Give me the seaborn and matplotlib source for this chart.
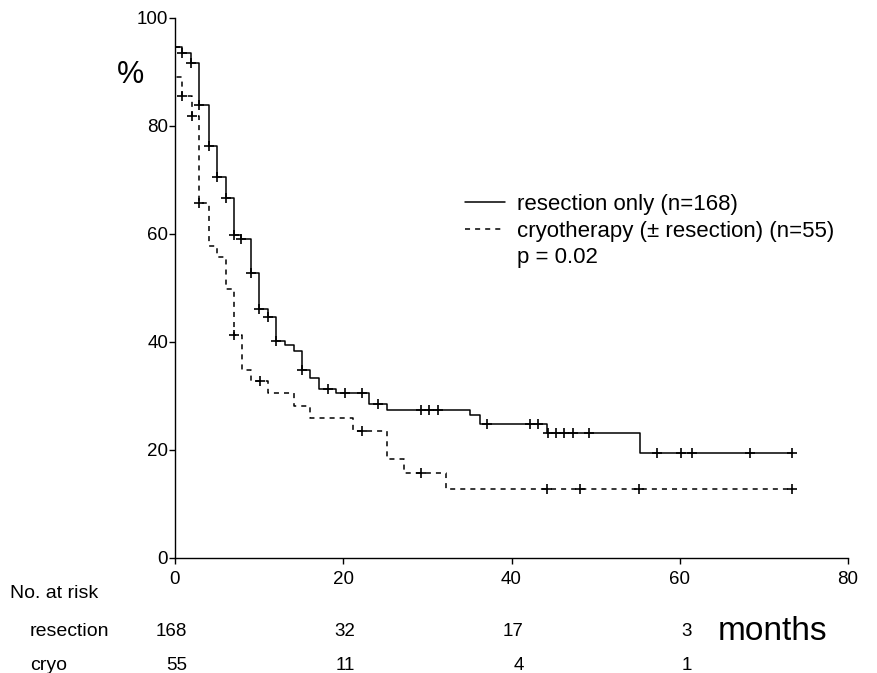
import numpy as np
import pandas as pd
import matplotlib
matplotlib.use("Agg")
import matplotlib.pyplot as plt
import matplotlib.transforms as mtransforms
from matplotlib.lines import Line2D
import seaborn as sns

# ---------------- data ----------------
res_times = [0, 0, 0.8, 1.9, 2.9, 4.0, 5.0, 6.1, 7.0, 7.9, 9.0, 10.0, 11.0, 12.0, 13.1,
             14.1, 15.1, 16.1, 17.1, 19.1, 23.1, 25.2, 35.1, 36.3, 44.2, 55.3, 73.4]
res_surv = [100, 94.7, 93.5, 91.6, 83.9, 76.3, 70.6, 66.6, 59.9, 59.1, 52.8, 46.2, 44.6, 40.1, 39.4,
            38.4, 34.9, 33.3, 31.3, 30.5, 28.6, 27.5, 26.4, 24.9, 23.2, 19.4, 19.4]
res_censor = [0, 0.8, 1.9, 2.9, 4.0, 5.0, 6.1, 7.0, 7.9, 9.0, 10.0, 11.0, 12.0, 15.1, 18.2,
              20.2, 22.2, 24.1, 29.2, 30.2, 31.3, 37.1, 42.2, 43.2, 44.3, 45.3, 46.2, 47.3,
              49.2, 57.3, 60.2, 61.4, 68.4, 73.4]

cryo_times = [0, 0, 0.8, 2.0, 2.9, 4.0, 5.0, 6.1, 7.05, 8.0, 9.0, 11.1, 14.1, 16.1, 21.1,
              25.2, 27.2, 32.2, 73.4]
cryo_surv = [100, 89.1, 85.6, 81.9, 65.8, 57.8, 55.8, 49.8, 41.3, 34.8, 32.7, 30.6, 28.1, 25.9, 23.6,
             18.3, 15.7, 12.7, 12.7]
cryo_censor = [0.8, 2.0, 2.9, 7.05, 10.1, 22.2, 29.2, 44.2, 48.2, 55.2, 73.4]

risk_times = [0, 20, 40, 60]
risk_resection = [168, 32, 17, 3]
risk_cryo = [55, 11, 4, 1]

legend_labels = ["resection only (n=168)", "cryotherapy (\u00b1 resection) (n=55)", "p = 0.02"]
x_ticks = [0, 20, 40, 60, 80]
y_ticks = [0, 20, 40, 60, 80, 100]

# ---------------- style ----------------
sns.set_style("ticks")
plt.rcParams["font.family"] = ["Liberation Sans", "DejaVu Sans"]
plt.rcParams["text.color"] = "black"
plt.rcParams["xtick.color"] = "black"
plt.rcParams["ytick.color"] = "black"
plt.rcParams["axes.edgecolor"] = "black"

W, H = 877, 673
fig = plt.figure(figsize=(W / 100, H / 100), dpi=100)
ax = fig.add_axes([175 / W, 1 - 558 / H, (848 - 175) / W, (558 - 18) / H])

lw = 1.1
dash = (0, (3.3, 3.3))


def surv_at(times, surv, t):
    idx = np.searchsorted(np.asarray(times), np.asarray(t), side="right") - 1
    return np.asarray(surv)[idx]


df_res = pd.DataFrame({"t": res_times, "s": res_surv})
df_cryo = pd.DataFrame({"t": cryo_times, "s": cryo_surv})

sns.lineplot(data=df_res, x="t", y="s", estimator=None, sort=False, drawstyle="steps-post",
             color="black", linewidth=lw, ax=ax)
sns.lineplot(data=df_cryo, x="t", y="s", estimator=None, sort=False, drawstyle="steps-post",
             color="black", linewidth=lw, linestyle=dash, ax=ax)

sns.scatterplot(x=res_censor, y=surv_at(res_times, res_surv, res_censor), marker="+",
                s=45, color="black", linewidth=1.2, ax=ax, zorder=3)
sns.scatterplot(x=cryo_censor, y=surv_at(cryo_times, cryo_surv, cryo_censor), marker="+",
                s=45, color="black", linewidth=1.2, ax=ax, zorder=3)

ax.set_xlim(0, 80)
ax.set_ylim(0, 100)
ax.set_xticks(x_ticks)
ax.set_yticks(y_ticks)
ax.set_xlabel("")
ax.set_ylabel("")
sns.despine(ax=ax)
for sp in ["left", "bottom"]:
    ax.spines[sp].set_linewidth(1.0)
    ax.spines[sp].set_color("black")
ax.tick_params(axis="both", direction="out", length=4, width=1.0, labelsize=13.5,
               colors="black", labelcolor="black")
ax.tick_params(axis="x", pad=5)
ax.tick_params(axis="y", pad=1)

# legend
handles = [Line2D([], [], color="black", lw=lw),
           Line2D([], [], color="black", lw=lw, linestyle=dash),
           Line2D([], [], color="none", lw=0)]
fig.legend(handles, legend_labels, loc="upper left",
           bbox_to_anchor=(465 / W, 1 - 194 / H), frameon=False, fontsize=16,
           handlelength=1.8, handletextpad=0.55, labelspacing=0.25,
           borderpad=0, borderaxespad=0, labelcolor="black")

# axis labels
fig.text(130 / W, 1 - 75 / H, "%", fontsize=22, ha="center", va="center")
fig.text(773 / W, 1 - 631 / H, "months", fontsize=24, ha="center", va="center")

# number at risk table
fig.text(10 / W, 1 - 594 / H, "No. at risk", fontsize=14, ha="left", va="center")
fig.text(30 / W, 1 - 632 / H, "resection", fontsize=14, ha="left", va="center")
fig.text(30 / W, 1 - 665 / H, "cryo", fontsize=14, ha="left", va="center")

base = mtransforms.blended_transform_factory(ax.transData, fig.transFigure)
off = mtransforms.ScaledTranslation(0.12, 0, fig.dpi_scale_trans)
for t, r, c in zip(risk_times, risk_resection, risk_cryo):
    ax.text(t, 1 - 632 / H, str(r), transform=base + off, fontsize=13.5, ha="right", va="center",
            clip_on=False)
    ax.text(t, 1 - 665 / H, str(c), transform=base + off, fontsize=13.5, ha="right", va="center",
            clip_on=False)

fig.savefig("out.png", dpi=100)
